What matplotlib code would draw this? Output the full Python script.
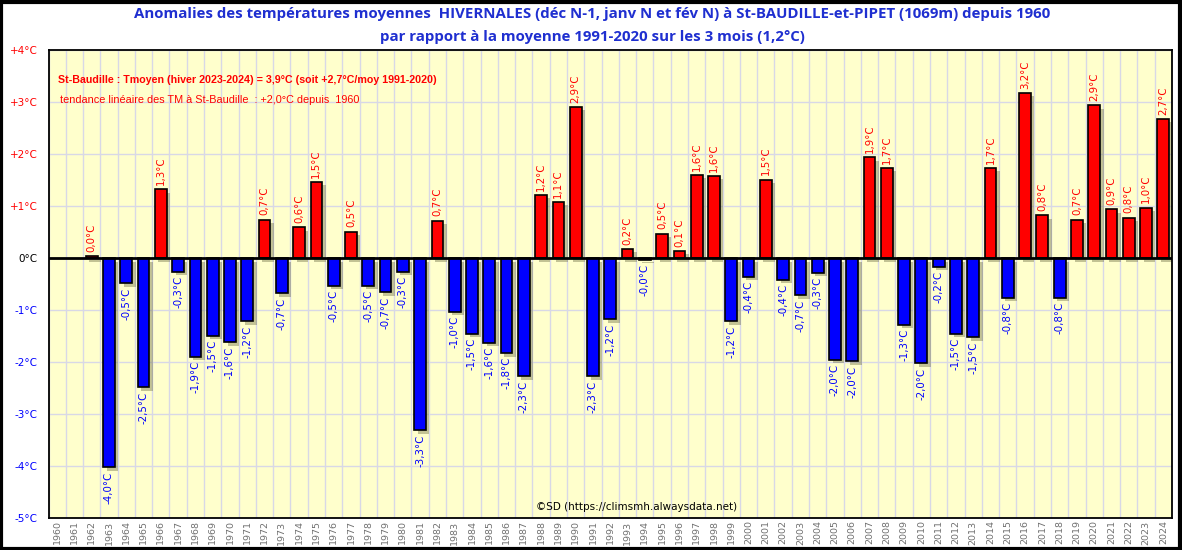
import matplotlib
matplotlib.use("Agg")
import matplotlib.pyplot as plt
import matplotlib.patheffects as pe
import numpy as np

years = list(range(1960, 2025))
anomalies = [
    np.nan, np.nan, 0.03, -4.03, -0.49, -2.49, 1.32, -0.26, -1.90, -1.50,
    -1.62, -1.22, 0.74, -0.68, 0.59, 1.47, -0.53, 0.51, -0.53, -0.66,
    -0.26, -3.32, 0.72, -1.03, -1.46, -1.63, -1.83, -2.28, 1.22, 1.08,
    2.91, -2.28, -1.18, 0.18, -0.03, 0.47, 0.14, 1.60, 1.58, -1.22,
    -0.36, 1.51, -0.42, -0.72, -0.28, -1.96, -1.99, 1.94, 1.74, -1.29,
    -2.03, -0.17, -1.46, -1.53, 1.74, -0.76, 3.18, 0.82, -0.76, 0.74,
    2.94, 0.94, 0.78, 0.97, 2.68,
]
ytick_values = [4, 3, 2, 1, 0, -1, -2, -3, -4, -5]

title_line1 = ("Anomalies des températures moyennes  HIVERNALES (déc N-1, janv N et fév N) "
               "à St-BAUDILLE-et-PIPET (1069m) depuis 1960")
title_line2 = "par rapport à la moyenne 1991-2020 sur les 3 mois (1,2°C)"
note1 = "St-Baudille : Tmoyen (hiver 2023-2024) = 3,9°C (soit +2,7°C/moy 1991-2020)"
note2 = "tendance linéaire des TM à St-Baudille  : +2,0°C depuis  1960"
credit = "©SD (https://climsmh.alwaysdata.net)"

RED = "#ff0000"
BLUE = "#0000ff"
TITLE_BLUE = "#1f2fd0"

fig = plt.figure(figsize=(11.82, 5.5), dpi=100)
fig.patch.set_facecolor("white")
ax = fig.add_axes([48.5 / 1182, 1 - 517.7 / 550, (1172 - 48.5) / 1182, (517.7 - 50.3) / 550])
ax.set_facecolor("#ffffcc")

x = np.arange(len(years))
vals = np.array(anomalies, dtype=float)
colors = [RED if (v > 0) else BLUE for v in np.nan_to_num(vals)]
shadow = [pe.SimplePatchShadow(offset=(2.5, -2.5), shadow_rgbFace="#6a6a40", alpha=0.4), pe.Normal()]
bars = ax.bar(x, np.nan_to_num(vals), width=0.68, color=colors, edgecolor="black",
              linewidth=1.2, zorder=3)
for b, v in zip(bars, vals):
    if np.isnan(v):
        b.set_visible(False)
    else:
        b.set_path_effects(shadow)

for xi, v in zip(x, vals):
    if np.isnan(v):
        continue
    lab = f"{v:.1f}".replace(".", ",") + "°C"
    if v >= 0:
        ax.annotate(lab, (xi, v), xytext=(0, 3), textcoords="offset points",
                    rotation=90, ha="center", va="bottom", color=RED, fontsize=7.4, zorder=4)
    else:
        ax.annotate(lab, (xi, v), xytext=(0, -3), textcoords="offset points",
                    rotation=90, ha="center", va="top", color=BLUE, fontsize=7.4, zorder=4)

ax.axhline(0, color="black", linewidth=2, zorder=4)
ax.set_xlim(-0.5, len(years) - 0.5)
ax.set_ylim(-5, 4)

# grid
for xb in np.arange(-0.5, len(years) + 0.5, 1):
    ax.axvline(xb, color="#d8d8e6", linewidth=1, zorder=1)
for yv in ytick_values:
    ax.axhline(yv, color="#d8d8e6", linewidth=1, zorder=1)

ax.set_yticks(ytick_values)
ylabels = []
for yv in ytick_values:
    ylabels.append(f"+{yv}°C" if yv > 0 else f"{yv}°C")
ax.set_yticklabels(ylabels, fontsize=7.5)
for t, yv in zip(ax.get_yticklabels(), ytick_values):
    t.set_color(RED if yv > 0 else (BLUE if yv < 0 else "black"))
ax.tick_params(axis="y", length=0, pad=8)

ax.set_xticks(x)
ax.set_xticklabels([str(y) for y in years], rotation=90, fontsize=6.8, color="#707070")
ax.tick_params(axis="x", length=0, pad=2)

for s in ax.spines.values():
    s.set_color("black")
    s.set_linewidth(1.3)
    s.set_zorder(5)

fig.text(592 / 1182, 1 - 14 / 550, title_line1, ha="center", va="center", color=TITLE_BLUE,
         fontsize=10.8, fontweight="bold", family="Open Sans")
fig.text(592 / 1182, 1 - 37 / 550, title_line2, ha="center", va="center", color=TITLE_BLUE,
         fontsize=10.8, fontweight="bold", family="Open Sans")

fig.text(58 / 1182, 1 - 80 / 550, note1, ha="left", va="center",
         color=RED, fontsize=7.7, fontweight="bold", family="Liberation Sans")
fig.text(60 / 1182, 1 - 100 / 550, note2, ha="left", va="center",
         color=RED, fontsize=7.8, family="Liberation Sans")
fig.text(637 / 1182, 1 - 507 / 550, credit, ha="center", va="center",
         color="black", fontsize=7.5)

# outer frame
fig.add_artist(plt.Rectangle((0.001, 0.002), 0.997, 0.995, transform=fig.transFigure,
                             fill=False, edgecolor="black", linewidth=3))

fig.savefig("out.png", dpi=100)
